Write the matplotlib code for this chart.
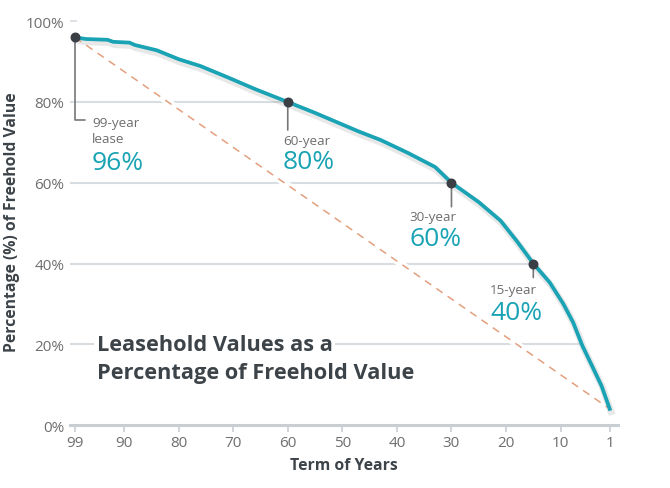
import matplotlib.pyplot as plt
import matplotlib.patheffects as pe
import numpy as np

plt.rcParams['font.family'] = ['Open Sans', 'DejaVu Sans']

# term remaining (years) vs leasehold value as % of freehold
years = [99, 97, 93, 92, 89, 88, 84, 80, 76, 71, 66, 60, 55, 51, 47, 43, 38, 33,
         30, 25, 21, 18, 15, 12, 9.5, 7.7, 6, 4.4, 2.5, 1]
values = [96, 95.6, 95.4, 94.9, 94.7, 94.1, 92.8, 90.6, 88.9, 86.1, 83.2, 80, 77.3, 75,
          72.7, 70.6, 67.4, 63.9, 60, 55.2, 50.6, 45.5, 40, 35.3, 30, 25.4, 19.6,
          15.1, 9.7, 4]

# straight-line reference
line_years = [99, 1]
line_values = [96, 4]

# highlighted points
mark_years = [99, 60, 30, 15]
mark_values = [96, 80, 60, 40]
mark_labels = ['99-year\nlease', '60-year', '30-year', '15-year']
mark_pcts = ['96%', '80%', '60%', '40%']

xticks = [99, 90, 80, 70, 60, 50, 40, 30, 20, 10, 1]
yticks = [0, 20, 40, 60, 80, 100]

teal = '#19a3b4'
dark = '#3d4449'
grey = '#6e6e6e'
gridc = '#d8dde2'

fig = plt.figure(figsize=(6.7, 4.89), dpi=100)
ax = fig.add_axes([0.1045, 0.1288, 0.8175, 0.834])
ax.set_xlim(99.9, -0.47)
ax.set_ylim(0, 101)

# gridlines only up to the curve
yr_asc = years[::-1]
val_asc = values[::-1]
for v in yticks[1:-1]:
    xend = np.interp(v, val_asc, yr_asc)
    ax.hlines(v, 99.9, xend, color=gridc, lw=1.5, zorder=1)

# dashed line with a white gap underneath
ax.plot(line_years, line_values, color='white', lw=5, zorder=2, solid_capstyle='butt')
ax.plot(line_years, line_values, color='#e2a07e', lw=1.1, ls=(0, (5, 4)), zorder=3)

ax.plot(years, values, color=teal, lw=2.7, zorder=4, solid_joinstyle='round',
        path_effects=[pe.SimpleLineShadow(offset=(1, -2), shadow_color='#999999',
                                          alpha=0.22, linewidth=5),
                      pe.Normal()])

ax.scatter(mark_years, mark_values, s=38, color='#3a3f45', zorder=6)

# leader lines
ax.annotate('', xy=(99, 96), xytext=(10, -83), textcoords='offset pixels',
            arrowprops=dict(arrowstyle='-', color='#777777', lw=1.2, shrinkA=0, shrinkB=0,
                            connectionstyle='angle,angleA=0,angleB=90,rad=0'), zorder=5)
for yr, v, d in zip(mark_years[1:], mark_values[1:], [28, 24, 14]):
    ax.annotate('', xy=(yr, v), xytext=(0, -d), textcoords='offset pixels',
                arrowprops=dict(arrowstyle='-', color='#777777', lw=1.2,
                                shrinkA=0, shrinkB=0), zorder=5)

lab_off = [(17, -93), (-5, -39), (-42, -34), (-43, -26)]
pct_off = [(17, -125), (-5, -60), (-42, -56), (-43, -49)]
for yr, v, lab, pct, lo, po in zip(mark_years, mark_values, mark_labels, mark_pcts,
                                   lab_off, pct_off):
    ax.annotate(lab, xy=(yr, v), xytext=lo, textcoords='offset pixels',
                ha='left', va='center', fontsize=9.7, color=grey, linespacing=1.3)
    ax.annotate(pct, xy=(yr, v), xytext=po, textcoords='offset pixels',
                ha='left', va='center', fontsize=19, color=teal)

ax.text(95, 20, 'Leasehold Values as a', fontsize=15.7, fontweight='bold', color=dark,
        ha='left', va='center', zorder=7,
        bbox=dict(facecolor='white', edgecolor='none', pad=2))
ax.text(95, 13.1, 'Percentage of Freehold Value', fontsize=15.7, fontweight='bold',
        color=dark, ha='left', va='center', zorder=7)

for s in ['top', 'right', 'left']:
    ax.spines[s].set_visible(False)
ax.spines['bottom'].set_color('#c9ced3')
ax.spines['bottom'].set_linewidth(2.2)

ax.set_xticks(xticks)
ax.set_xticklabels([str(t) for t in xticks])
ax.set_yticks(yticks)
ax.set_yticklabels([f'{t}%' for t in yticks])
ax.tick_params(axis='x', direction='out', length=5, width=1.2, color='#c9ced3',
               labelsize=11, labelcolor=grey, pad=2)
ax.tick_params(axis='y', direction='in', length=5, width=1.2, color=gridc,
               labelsize=11, labelcolor=grey, pad=4)

ax.set_xlabel('Term of Years', fontsize=11.3, fontweight='bold', color=dark, labelpad=5)
ax.set_ylabel('Percentage (%) of Freehold Value', fontsize=11.3, fontweight='bold',
              color=dark, labelpad=4)

fig.savefig('out.png', dpi=100)
